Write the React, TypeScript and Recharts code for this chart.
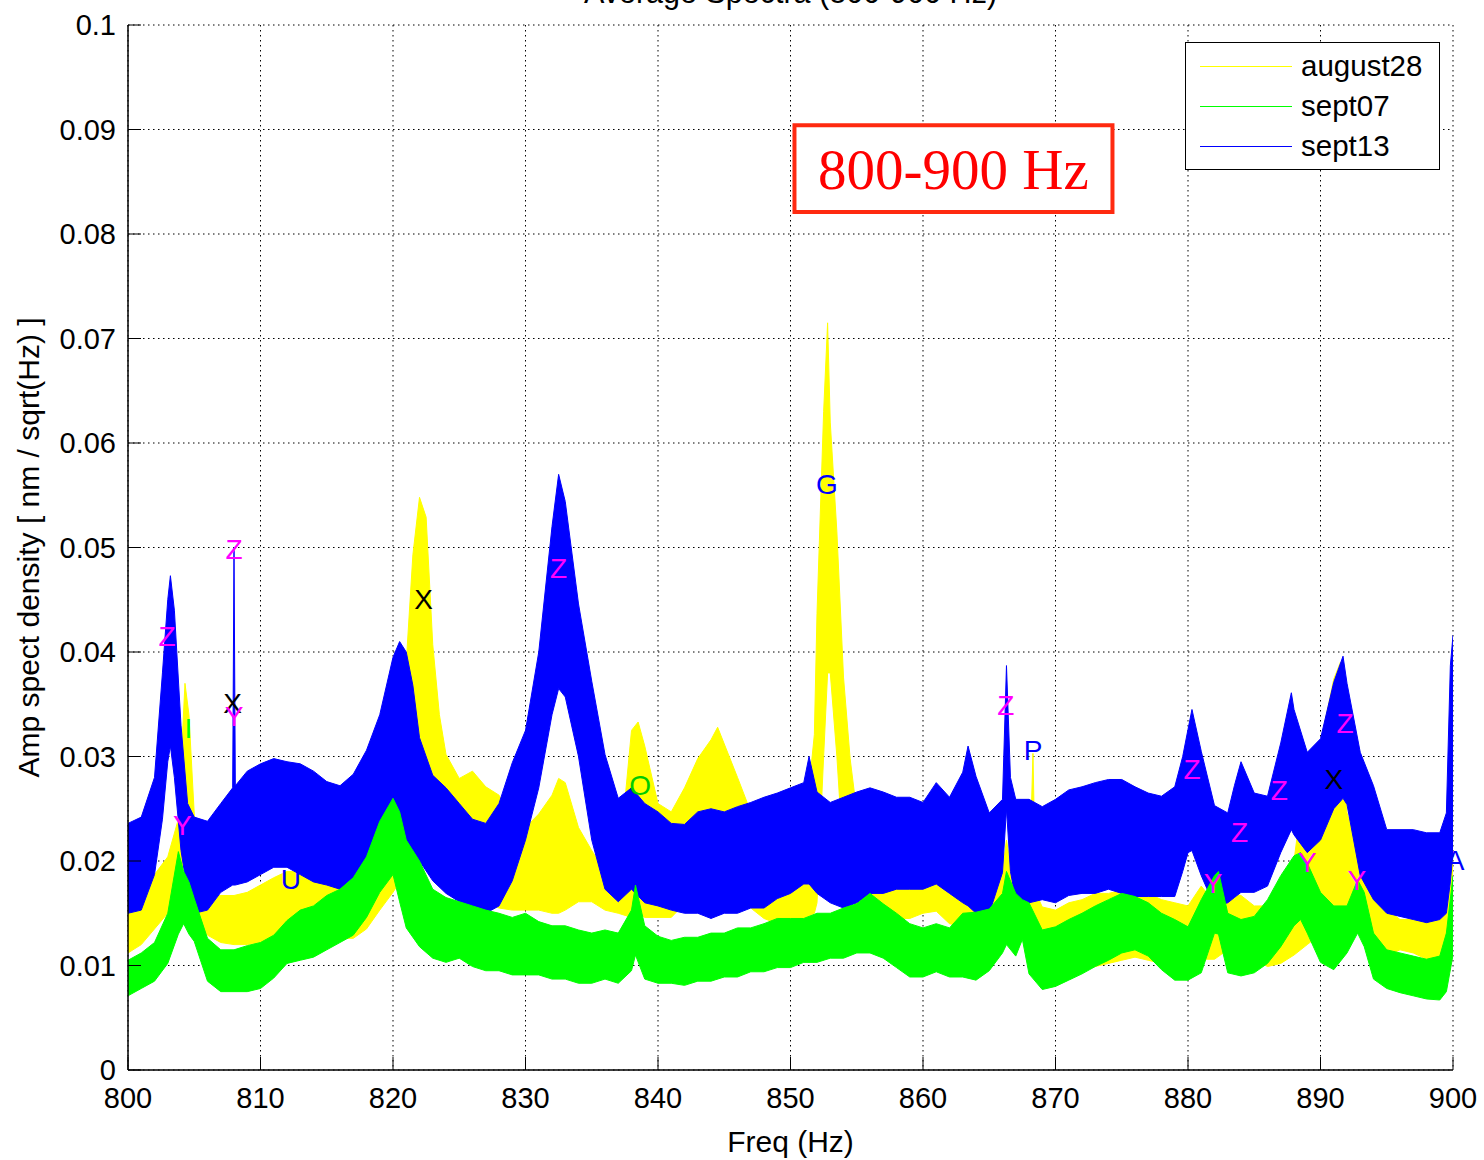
import React from 'react';
import {
  ComposedChart, Area, XAxis, YAxis, CartesianGrid, ReferenceArea, ReferenceDot, Legend,
} from 'recharts';

const FONT = '"Liberation Sans", Arial, Helvetica, sans-serif';
const SERIF = '"Liberation Serif", "Times New Roman", serif';

const X_TICKS = [800, 810, 820, 830, 840, 850, 860, 870, 880, 890, 900];
const Y_TICKS = [0, 0.01, 0.02, 0.03, 0.04, 0.05, 0.06, 0.07, 0.08, 0.09, 0.1];

// envelopes: [freq Hz, low, high]
const AUGUST28: [number, number, number][] = [
  [800, 0.0112, 0.0153], [801, 0.012, 0.016], [802, 0.0135, 0.0187], [803, 0.015, 0.0204],
  [803.8, 0.018, 0.024], [804.3, 0.02, 0.037], [804.6, 0.02, 0.034], [805, 0.016, 0.0245],
  [805.5, 0.014, 0.02], [806, 0.0129, 0.0167], [807, 0.0122, 0.0167], [808, 0.012, 0.0167],
  [809, 0.012, 0.017], [810, 0.0122, 0.0177], [811, 0.0126, 0.0184], [812, 0.0132, 0.019],
  [813, 0.0143, 0.019], [814, 0.0146, 0.0187], [815, 0.0136, 0.0184], [816, 0.0126, 0.0177],
  [817, 0.0126, 0.019], [818, 0.0135, 0.0197], [819, 0.0153, 0.0207], [820, 0.017, 0.025],
  [821, 0.019, 0.039], [821.5, 0.02, 0.0493], [822, 0.021, 0.0548], [822.5, 0.021, 0.0529],
  [823, 0.02, 0.0407], [823.5, 0.019, 0.034], [824, 0.018, 0.0302], [825, 0.017, 0.0279],
  [826, 0.0165, 0.0286], [827, 0.016, 0.0271], [828, 0.0155, 0.0263], [829, 0.0153, 0.024],
  [830, 0.0153, 0.0232], [831, 0.0153, 0.0245], [832, 0.015, 0.0263], [832.5, 0.015, 0.0279],
  [833, 0.0153, 0.0275], [834, 0.0161, 0.0232], [835, 0.0161, 0.021], [836, 0.0153, 0.019],
  [837, 0.015, 0.019], [838, 0.0146, 0.0325], [838.5, 0.015, 0.0333], [839, 0.0146, 0.031],
  [840, 0.0146, 0.0255], [841, 0.0146, 0.0247], [842, 0.0159, 0.027], [843, 0.0159, 0.0298],
  [844, 0.0159, 0.0316], [844.5, 0.0159, 0.0328], [845, 0.0155, 0.0312], [846, 0.0159, 0.028],
  [847, 0.0155, 0.0247], [848, 0.0145, 0.022], [849, 0.014, 0.021], [850, 0.014, 0.021],
  [851, 0.0145, 0.022], [851.8, 0.015, 0.0321], [852, 0.016, 0.0437], [852.5, 0.03, 0.063],
  [852.8, 0.038, 0.0715], [853, 0.038, 0.062], [853.5, 0.03, 0.0515], [854, 0.02, 0.0376],
  [854.5, 0.017, 0.0298], [855, 0.0155, 0.0247], [856, 0.0155, 0.021], [857, 0.015, 0.02],
  [858, 0.0145, 0.019], [859, 0.0145, 0.019], [860, 0.015, 0.02], [861, 0.0152, 0.021],
  [862, 0.014, 0.02], [863, 0.0137, 0.0192], [864, 0.0133, 0.0176], [865, 0.0133, 0.016],
  [866, 0.015, 0.0192], [866.3, 0.016, 0.022], [867, 0.0125, 0.0166], [868, 0.0128, 0.0169],
  [868.3, 0.013, 0.0303], [868.5, 0.0128, 0.017], [869, 0.0112, 0.0156], [870, 0.0093, 0.0153],
  [871, 0.0093, 0.016], [872, 0.0096, 0.0163], [873, 0.0099, 0.0169], [874, 0.0102, 0.0169],
  [875, 0.0105, 0.0172], [876, 0.0108, 0.0166], [877, 0.0105, 0.0169], [878, 0.0102, 0.0163],
  [879, 0.0096, 0.016], [880, 0.0108, 0.0157], [881, 0.0106, 0.0176], [882, 0.0106, 0.016],
  [883, 0.0115, 0.017], [884, 0.0112, 0.0167], [885, 0.0106, 0.0157], [886, 0.0099, 0.0157],
  [887, 0.0102, 0.017], [888, 0.011, 0.02], [889, 0.012, 0.03], [890, 0.013, 0.0313],
  [891, 0.014, 0.0374], [891.5, 0.015, 0.039], [892, 0.0134, 0.0246], [893, 0.0134, 0.0208],
  [894, 0.0118, 0.017], [895, 0.0109, 0.0154], [896, 0.0115, 0.0144], [897, 0.0112, 0.0144],
  [898, 0.0106, 0.0141], [899, 0.0106, 0.0144], [899.6, 0.012, 0.0227], [900, 0.014, 0.0233],
];

const SEPT07: [number, number, number][] = [
  [800, 0.0071, 0.0105], [801, 0.0078, 0.0112], [802, 0.0085, 0.0122], [803, 0.0102, 0.015],
  [803.8, 0.013, 0.0209], [804.2, 0.014, 0.019], [804.6, 0.013, 0.018],
  [805, 0.0123, 0.0164], [806, 0.0085, 0.0126], [807, 0.0075, 0.0115], [808, 0.0075, 0.0115],
  [809, 0.0075, 0.0119], [810, 0.0078, 0.0122], [811, 0.0088, 0.0129], [812, 0.0102, 0.0143],
  [813, 0.0105, 0.0153], [814, 0.0108, 0.0157], [815, 0.0115, 0.0167], [816, 0.0122, 0.0173],
  [817, 0.0129, 0.0184], [818, 0.0146, 0.0204], [819, 0.017, 0.0238], [820, 0.0187, 0.026],
  [820.5, 0.0161, 0.0247], [821, 0.0136, 0.022], [822, 0.0118, 0.02], [823, 0.0107, 0.0173],
  [824, 0.0103, 0.0165], [825, 0.0107, 0.0161], [826, 0.0099, 0.0157], [827, 0.0095, 0.0153],
  [828, 0.0095, 0.015], [829, 0.0091, 0.0146], [830, 0.0091, 0.015], [831, 0.0091, 0.0142],
  [832, 0.0087, 0.0138], [833, 0.0087, 0.0138], [834, 0.0083, 0.0134], [835, 0.0083, 0.0131],
  [836, 0.0087, 0.0134], [837, 0.0083, 0.0131], [838, 0.0095, 0.0153], [838.3, 0.011, 0.0177],
  [839, 0.0087, 0.0138], [840, 0.0083, 0.0128], [841, 0.0083, 0.0124], [842, 0.0081, 0.0127],
  [843, 0.0085, 0.0127], [844, 0.0085, 0.0131], [845, 0.0089, 0.0131], [846, 0.0089, 0.0136],
  [847, 0.0094, 0.0136], [848, 0.0094, 0.014], [849, 0.0098, 0.0145], [850, 0.0098, 0.0145],
  [851, 0.0103, 0.0145], [852, 0.0103, 0.015], [853, 0.0107, 0.015], [854, 0.0107, 0.0155],
  [855, 0.0112, 0.0159], [856, 0.0112, 0.0169], [857, 0.0107, 0.0159], [858, 0.0098, 0.015],
  [859, 0.0089, 0.014], [860, 0.0089, 0.0136], [861, 0.0094, 0.014], [862, 0.0089, 0.0136],
  [863, 0.0089, 0.015], [864, 0.0086, 0.0151], [865, 0.0095, 0.0154], [866, 0.0112, 0.0169],
  [866.3, 0.012, 0.019], [867, 0.0109, 0.0169], [867.5, 0.0125, 0.0163], [868, 0.0092, 0.016],
  [869, 0.0077, 0.0134], [870, 0.008, 0.0137], [871, 0.0086, 0.0144], [872, 0.0092, 0.015],
  [873, 0.0099, 0.0157], [874, 0.0105, 0.0163], [875, 0.0112, 0.0169], [876, 0.0115, 0.0166],
  [877, 0.0109, 0.016], [878, 0.0096, 0.015], [879, 0.0086, 0.0144], [880, 0.0086, 0.0137],
  [881, 0.0093, 0.0163], [882, 0.0131, 0.0186], [882.3, 0.013, 0.019], [883, 0.0093, 0.015],
  [884, 0.009, 0.0144], [885, 0.0093, 0.0147], [886, 0.0102, 0.0163], [887, 0.0118, 0.0186],
  [888, 0.0138, 0.0205], [888.5, 0.0144, 0.0208], [889, 0.0131, 0.0198], [890, 0.0103, 0.017],
  [891, 0.0096, 0.0157], [892, 0.0112, 0.0157], [892.8, 0.0131, 0.0182], [893.3, 0.0118, 0.017],
  [894, 0.0087, 0.0131], [895, 0.0078, 0.0115], [896, 0.0074, 0.0112], [897, 0.0071, 0.0109],
  [898, 0.0068, 0.0106], [899, 0.0067, 0.0109], [899.5, 0.0075, 0.0131], [900, 0.011, 0.0186],
];

const SEPT13: [number, number, number][] = [
  [800, 0.015, 0.0236], [801, 0.0153, 0.0242], [802, 0.0187, 0.028], [802.6, 0.024, 0.038],
  [803, 0.0295, 0.045], [803.2, 0.031, 0.0473], [803.5, 0.028, 0.044], [804, 0.021, 0.033],
  [804.5, 0.017, 0.0255], [805, 0.015, 0.0242], [806, 0.0153, 0.0238], [807, 0.017, 0.0255],
  [807.9, 0.0177, 0.027], [808, 0.0177, 0.0499], [808.1, 0.0177, 0.0272], [809, 0.018, 0.0286],
  [810, 0.0187, 0.0293], [811, 0.0194, 0.0298], [812, 0.0194, 0.0295], [813, 0.0187, 0.0293],
  [814, 0.018, 0.0286], [815, 0.0177, 0.0276], [816, 0.0173, 0.0272], [817, 0.0184, 0.0283],
  [818, 0.0197, 0.0306], [819, 0.021, 0.034], [820, 0.022, 0.0395], [820.5, 0.022, 0.041],
  [821, 0.021, 0.04], [821.5, 0.0205, 0.0368], [822, 0.02, 0.0318], [823, 0.0181, 0.0282],
  [824, 0.0169, 0.027], [825, 0.0161, 0.0255], [826, 0.0153, 0.024], [827, 0.015, 0.0236],
  [828, 0.0157, 0.0255], [829, 0.0181, 0.0294], [830, 0.022, 0.0325], [831, 0.027, 0.04],
  [832, 0.034, 0.052], [832.5, 0.0365, 0.057], [833, 0.0357, 0.0544], [834, 0.03, 0.0446],
  [835, 0.022, 0.0372], [836, 0.0173, 0.0302], [837, 0.0161, 0.026], [838, 0.0173, 0.027],
  [839, 0.016, 0.0255], [840, 0.0157, 0.0247], [841, 0.0153, 0.0236], [842, 0.015, 0.0235],
  [843, 0.015, 0.0247], [844, 0.0145, 0.025], [845, 0.015, 0.0247], [846, 0.015, 0.0252],
  [847, 0.0155, 0.0256], [848, 0.0155, 0.0261], [849, 0.0164, 0.0265], [850, 0.0169, 0.027],
  [851, 0.0178, 0.0275], [851.4, 0.0178, 0.03], [852, 0.0169, 0.0266], [853, 0.016, 0.0256],
  [854, 0.0155, 0.0261], [855, 0.016, 0.0266], [856, 0.0169, 0.027], [857, 0.0169, 0.0266],
  [858, 0.0173, 0.0261], [859, 0.0173, 0.0261], [860, 0.0173, 0.0256], [861, 0.0178, 0.0275],
  [862, 0.0169, 0.0261], [863, 0.016, 0.0285], [863.4, 0.0157, 0.031], [864, 0.015, 0.0281],
  [865, 0.015, 0.0246], [866, 0.0189, 0.0259], [866.3, 0.025, 0.0387], [866.6, 0.019, 0.028],
  [867, 0.0163, 0.0259], [868, 0.016, 0.0259], [869, 0.0163, 0.0252], [870, 0.016, 0.0259],
  [871, 0.0167, 0.0268], [872, 0.0169, 0.0271], [873, 0.0169, 0.0275], [874, 0.0173, 0.0278],
  [875, 0.0169, 0.0278], [876, 0.0166, 0.0271], [877, 0.0166, 0.0265], [878, 0.0166, 0.0262],
  [879, 0.0166, 0.0271], [879.6, 0.019, 0.03], [880, 0.0208, 0.0326], [880.3, 0.021, 0.0345],
  [881, 0.0186, 0.0305], [882, 0.0157, 0.0253], [883, 0.016, 0.0246], [883.5, 0.0165, 0.0272],
  [884, 0.017, 0.0295], [885, 0.017, 0.0265], [886, 0.0176, 0.0262], [887, 0.0208, 0.0313],
  [887.8, 0.023, 0.0361], [888, 0.0225, 0.0345], [889, 0.0208, 0.0304], [890, 0.022, 0.0317],
  [891, 0.025, 0.0371], [891.7, 0.026, 0.0396], [892, 0.0254, 0.037], [893, 0.0186, 0.0304],
  [894, 0.0163, 0.0272], [895, 0.015, 0.023], [896, 0.0147, 0.023], [897, 0.0144, 0.023],
  [898, 0.0141, 0.0227], [899, 0.0144, 0.0227], [899.5, 0.015, 0.0246], [899.8, 0.018, 0.0387],
  [900, 0.0208, 0.0416],
];

// peak markers: [freq, value, letter, colour]
const MARKS: [number, number, string, string][] = [
  [802.95, 0.0415, 'Z', '#ff00ff'], [804.1, 0.0234, 'Y', '#ff00ff'], [804.56, 0.0327, 'I', '#00ff00'],
  [808, 0.0499, 'Z', '#ff00ff'], [807.9, 0.0351, 'X', '#000000'], [808, 0.0339, 'Y', '#ff00ff'],
  [812.3, 0.0183, 'U', '#0000ff'], [822.3, 0.0451, 'X', '#000000'], [832.5, 0.048, 'Z', '#ff00ff'],
  [838.65, 0.0273, 'O', '#00cc00'], [852.75, 0.0561, 'G', '#0000ff'], [866.25, 0.0349, 'Z', '#ff00ff'],
  [868.3, 0.0306, 'P', '#0000ff'], [880.3, 0.0288, 'Z', '#ff00ff'], [881.9, 0.0179, 'Y', '#ff00ff'],
  [883.9, 0.0228, 'Z', '#ff00ff'], [886.9, 0.0268, 'Z', '#ff00ff'], [889, 0.0199, 'Y', '#ff00ff'],
  [891, 0.0278, 'X', '#000000'], [891.85, 0.0332, 'Z', '#ff00ff'], [892.75, 0.0182, 'Y', '#ff00ff'],
  [900.15, 0.0201, 'A', '#0000ff'],
];

const SERIES = [
  { name: 'august28', color: '#ffff00', rows: AUGUST28 },
  { name: 'sept13', color: '#0000ff', rows: SEPT13 },
  { name: 'sept07', color: '#00ff00', rows: SEPT07 },
];
const LEGEND_ORDER = ['august28', 'sept07', 'sept13'];

const toBand = (rows: [number, number, number][]) => rows.map(([f, lo, hi]) => ({ f, band: [lo, hi] }));

const TICK_LEN = 13;

const BottomTick = ({ x, y, payload }: any) => (
  <g>
    <line x1={x} y1={y} x2={x} y2={y - TICK_LEN} stroke="#000" />
    <text x={x} y={y + 38} textAnchor="middle" fontFamily={FONT} fontSize={29} fill="#000">{payload.value}</text>
  </g>
);
const TopTick = ({ x, y }: any) => <line x1={x} y1={y} x2={x} y2={y + TICK_LEN} stroke="#000" />;
const LeftTick = ({ x, y, payload }: any) => (
  <g>
    <line x1={x} y1={y} x2={x + TICK_LEN} y2={y} stroke="#000" />
    <text x={x - 12} y={y + 10} textAnchor="end" fontFamily={FONT} fontSize={29} fill="#000">{String(payload.value)}</text>
  </g>
);
const RightTick = ({ x, y }: any) => <line x1={x} y1={y} x2={x - TICK_LEN} y2={y} stroke="#000" />;

const LegendBox = ({ payload }: any) => {
  const items = [...(payload || [])].sort(
    (a: any, b: any) => LEGEND_ORDER.indexOf(a.value) - LEGEND_ORDER.indexOf(b.value)
  );
  return (
    <div style={{ width: 255, height: 128, boxSizing: 'border-box', border: '1.5px solid #000', background: '#fff', paddingTop: 3, fontFamily: FONT, fontSize: 29.5 }}>
      {items.map((it: any) => (
        <div key={it.value} style={{ display: 'flex', alignItems: 'center', height: 40 }}>
          <div style={{ marginLeft: 14, width: 92, borderTop: `1.5px solid ${it.color}` }} />
          <span style={{ marginLeft: 9, color: '#000', lineHeight: '40px' }}>{it.value}</span>
        </div>
      ))}
    </div>
  );
};

const MarkText = (txt: string, color: string) => (props: any) => (
  <text x={props.cx} y={props.cy} dy={10} textAnchor="middle" fontFamily={FONT} fontSize={28} fill={color}>{txt}</text>
);

export default function App() {
  return (
    <div style={{ position: 'absolute', left: 0, top: 0, width: 1484, height: 1160, overflow: 'hidden', background: '#fff' }}>
      <div style={{ position: 'absolute', left: 128, width: 1325, top: -23, textAlign: 'center', fontFamily: FONT, fontSize: 30.5, lineHeight: '30.5px', color: '#000' }}>
        Average Spectra (800-900 Hz)
      </div>
      <ComposedChart width={1484} height={1160} margin={{ top: 25, right: 31, bottom: 0, left: 0 }}>
        <CartesianGrid stroke="#000" strokeDasharray="1.5 3.5" />
        {SERIES.map((s) => (
          <Area
            key={s.name}
            name={s.name}
            data={toBand(s.rows)}
            dataKey="band"
            type="linear"
            stroke={s.color}
            strokeWidth={1}
            fill={s.color}
            fillOpacity={1}
            dot={false}
            activeDot={false}
            isAnimationActive={false}
          />
        ))}
        <ReferenceArea
          x1={850.3}
          x2={874.3}
          y1={0.0821}
          y2={0.0904}
          fill="#fff"
          fillOpacity={1}
          stroke="#ff2a10"
          strokeWidth={4}
          label={{ value: '800-900 Hz', position: 'center', fill: '#ff0000', fontSize: 57, fontFamily: SERIF }}
        />
        {MARKS.map(([f, v, t, c], i) => (
          <ReferenceDot key={i} x={f} y={v} ifOverflow="visible" shape={MarkText(t, c)} />
        ))}
        <XAxis
          dataKey="f"
          type="number"
          domain={[800, 900]}
          ticks={X_TICKS}
          allowDataOverflow
          height={90}
          tickSize={0}
          tickMargin={0}
          tick={<BottomTick />}
          axisLine={{ stroke: '#000', strokeWidth: 1.5 }}
          label={{ value: 'Freq (Hz)', position: 'insideBottom', offset: 8, fontFamily: FONT, fontSize: 30, fill: '#000' }}
        />
        <XAxis
          xAxisId="top"
          orientation="top"
          dataKey="f"
          type="number"
          domain={[800, 900]}
          ticks={X_TICKS}
          allowDataOverflow
          height={0}
          tickSize={0}
          tickMargin={0}
          tick={<TopTick />}
          axisLine={{ stroke: '#000', strokeWidth: 1.5 }}
        />
        <YAxis
          type="number"
          domain={[0, 0.1]}
          ticks={Y_TICKS}
          allowDataOverflow
          width={128}
          tickSize={0}
          tickMargin={0}
          tick={<LeftTick />}
          axisLine={{ stroke: '#000', strokeWidth: 1.5 }}
          label={{
            content: ({ viewBox }: any) => {
              const cx = viewBox.x + 28;
              const cy = viewBox.y + viewBox.height / 2;
              return (
                <text x={cx} y={cy} transform={`rotate(-90 ${cx} ${cy})`} textAnchor="middle" dominantBaseline="central" fontFamily={FONT} fontSize={30} fill="#000">
                  Amp spect density [ nm / sqrt(Hz) ]
                </text>
              );
            },
          }}
        />
        <YAxis
          yAxisId="right"
          orientation="right"
          type="number"
          domain={[0, 0.1]}
          ticks={Y_TICKS}
          allowDataOverflow
          width={0}
          tickSize={0}
          tickMargin={0}
          tick={<RightTick />}
          axisLine={{ stroke: '#000', strokeWidth: 1.5 }}
        />
        <Legend
          layout="horizontal"
          verticalAlign="middle"
          align="center"
          content={<LegendBox />}
          wrapperStyle={{ position: 'absolute', left: 1185, top: 42, width: 255, height: 128 }}
        />
      </ComposedChart>
    </div>
  );
}
